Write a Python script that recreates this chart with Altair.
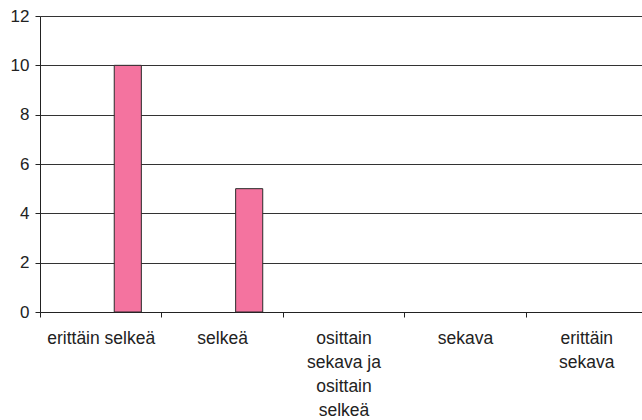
import altair as alt
import pandas as pd

# Survey answers: how clear the material was
categories = [
    "erittäin selkeä",
    "selkeä",
    "osittain\nsekava ja\nosittain\nselkeä",
    "sekava",
    "erittäin\nsekava",
]
counts = [10, 5, 0, 0, 0]
series_slots = ["s1", "s2", "s3"]   # clustered layout, the drawn series is the third slot
drawn_series = "s3"

df = pd.DataFrame({
    "luokka": categories,
    "lkm": counts,
    "sarja": [drawn_series] * len(categories),
})

font = "Liberation Sans"

bars = alt.Chart(df).mark_bar(
    color="#F4739F", stroke="#2b2b2b", strokeWidth=1
).encode(
    x=alt.X(
        "luokka:N",
        sort=categories,
        scale=alt.Scale(domain=categories, paddingInner=0, paddingOuter=0),
        axis=alt.Axis(
            title=None,
            labelAngle=0,
            labelExpr="datum.value ? split(datum.value, '\\n') : ''",
            labelFont=font,
            labelFontSize=17.5,
            labelLineHeight=24,
            labelColor="#222",
            labelPadding=12,
            labelLimit=200,
            labelOverlap=False,
            tickBand="extent",
            tickSize=5,
            tickColor="#222",
            domainColor="#222",
            grid=False,
        ),
    ),
    xOffset=alt.XOffset(
        "sarja:N",
        scale=alt.Scale(domain=series_slots, paddingInner=0, paddingOuter=0.74),
    ),
    y=alt.Y(
        "lkm:Q",
        scale=alt.Scale(domain=[0, 12], nice=False),
        axis=alt.Axis(
            title=None,
            values=[0, 2, 4, 6, 8, 10, 12],
            labelFont=font,
            labelFontSize=17,
            labelColor="#222",
            labelPadding=6,
            tickSize=5,
            tickColor="#222",
            domainColor="#222",
            gridColor="#333",
            gridWidth=1,
        ),
    ),
).transform_filter(alt.datum.lkm > 0)

chart = bars.properties(
    width=607,
    height=296,
    autosize=alt.AutoSizeParams(type="none"),
    padding={"left": 40, "top": 16, "right": -5, "bottom": 108},
    background="white",
).configure_view(stroke=None)

chart.save("out.html", embed_options={"renderer": "svg", "actions": False})
